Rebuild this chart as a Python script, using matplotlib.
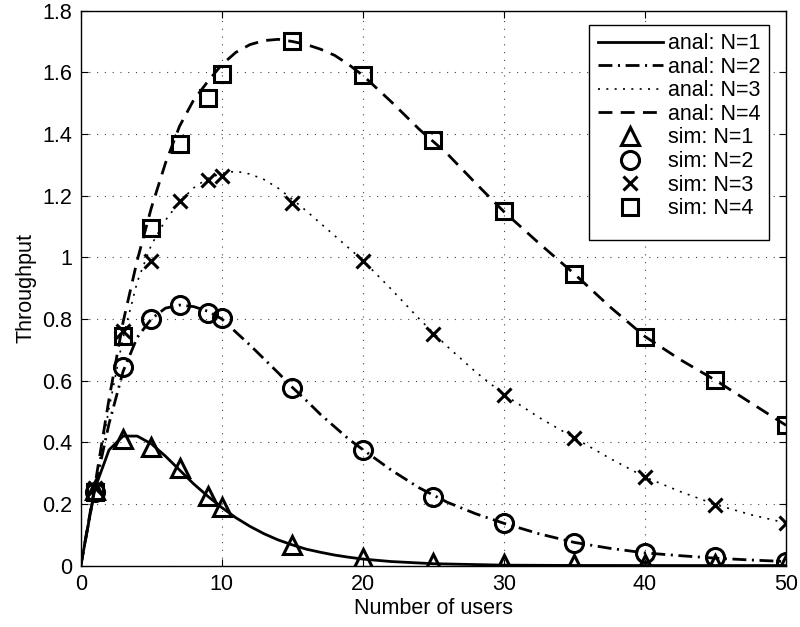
import matplotlib
matplotlib.use("Agg")
import matplotlib.pyplot as plt
from matplotlib.patches import Rectangle

plt.rcParams['font.family'] = ['Liberation Sans', 'DejaVu Sans']
plt.rcParams['font.size'] = 15.5

# simulated points
n_sim = [1, 3, 5, 7, 9, 10, 15, 20, 25, 30, 35, 40, 45, 50]
sim_n1 = [0.245, 0.41, 0.385, 0.315, 0.225, 0.19, 0.067, 0.025, 0.009, 0.006, 0.005, 0.005, 0.005, 0.005]
sim_n2 = [0.24, 0.645, 0.80, 0.845, 0.818, 0.803, 0.576, 0.376, 0.224, 0.138, 0.074, 0.04, 0.028, 0.013]
sim_n3 = [0.25, 0.76, 0.987, 1.182, 1.252, 1.263, 1.177, 0.989, 0.751, 0.554, 0.414, 0.287, 0.197, 0.138]
sim_n4 = [0.24, 0.744, 1.095, 1.366, 1.517, 1.593, 1.70, 1.59, 1.379, 1.149, 0.946, 0.743, 0.601, 0.455]

# analytical curves
n_anal1 = list(range(0, 21)) + [22, 25, 30, 35, 40, 45, 50]
anal_n1 = [0, 0.25, 0.375, 0.42, 0.42, 0.395, 0.355, 0.31, 0.265, 0.225, 0.188,
           0.155, 0.127, 0.103, 0.083, 0.067, 0.053, 0.043, 0.034, 0.027, 0.021,
           0.013, 0.006, 0.0013, 0.0003, 0.0001, 0, 0]

n_anal = list(range(0, 21)) + [22, 24, 26, 28, 30, 32.5, 35, 37.5, 40, 42.5, 45, 47.5, 50]
anal_n2 = [0, 0.25, 0.46, 0.63, 0.74, 0.80, 0.835, 0.845, 0.84, 0.825, 0.80,
           0.757, 0.715, 0.67, 0.625, 0.578, 0.535, 0.49, 0.45, 0.41, 0.376,
           0.31, 0.252, 0.205, 0.168, 0.137, 0.103, 0.075, 0.056, 0.041, 0.032, 0.024, 0.018, 0.013]
anal_n3 = [0, 0.255, 0.51, 0.74, 0.92, 1.04, 1.12, 1.18, 1.225, 1.256, 1.272,
           1.279, 1.27, 1.252, 1.224, 1.188, 1.15, 1.11, 1.07, 1.03, 0.99,
           0.897, 0.80, 0.71, 0.628, 0.555, 0.48, 0.414, 0.348, 0.287, 0.24, 0.198, 0.165, 0.138]
anal_n4 = [0, 0.26, 0.54, 0.79, 0.99, 1.16, 1.305, 1.425, 1.51, 1.57, 1.625,
           1.665, 1.69, 1.703, 1.707, 1.70, 1.69, 1.675, 1.655, 1.625, 1.59,
           1.505, 1.415, 1.335, 1.24, 1.148, 1.045, 0.946, 0.84, 0.743, 0.668, 0.601, 0.528, 0.455]

x_ticks = [0, 10, 20, 30, 40, 50]
y_ticks = [0, 0.2, 0.4, 0.6, 0.8, 1, 1.2, 1.4, 1.6, 1.8]
y_ticklabels = ['0', '0.2', '0.4', '0.6', '0.8', '1', '1.2', '1.4', '1.6', '1.8']

fig = plt.figure(figsize=(8, 6.27), dpi=100)
ax = fig.add_axes([0.101, 0.098, 0.8815, 0.885])

lw = 2.0
ax.plot(n_anal1, anal_n1, color='k', lw=lw, label='anal: N=1')
ax.plot(n_anal, anal_n2, color='k', lw=lw, dashes=(5, 2, 0.75, 2), label='anal: N=2')
ax.plot(n_anal, anal_n3, color='k', lw=1.2, dashes=(1.2, 3.8), label='anal: N=3')
ax.plot(n_anal, anal_n4, color='k', lw=lw, dashes=(5, 3), label='anal: N=4')

mk = dict(ls='none', color='k', mfc='none', mew=2.2)
ax.plot(n_sim, sim_n1, marker='^', ms=13, label='sim: N=1', **mk)
ax.plot(n_sim, sim_n2, marker='o', ms=13, label='sim: N=2', **mk)
ax.plot(n_sim, sim_n3, marker='x', ms=9.5, label='sim: N=3', **mk)
ax.plot(n_sim, sim_n4, marker='s', ms=11, label='sim: N=4', **mk)

ax.set_xlim(0, 50)
ax.set_ylim(0, 1.8)
ax.set_xticks(x_ticks)
ax.set_yticks(y_ticks)
ax.set_yticklabels(y_ticklabels)
ax.tick_params(direction='in', top=True, right=True, length=5, width=0.8, pad=6)
ax.grid(True, color='#444444', ls=(0, (1, 6)), lw=0.8)
for sp in ax.spines.values():
    sp.set_linewidth(1.0)

ax.set_xlabel('Number of users', labelpad=2)
ax.set_ylabel('Throughput', labelpad=4)

leg = ax.legend(loc='upper right', bbox_to_anchor=(0.976, 0.975), frameon=False,
                handlelength=3.0, handletextpad=0.25, labelspacing=0.12,
                borderpad=0.4, borderaxespad=0)
leg.set_zorder(6)

# legend box drawn by hand so it can carry extra room below the last entry
fig.canvas.draw()
bb = leg.get_window_extent()
extra = 12
ax.add_artist(Rectangle((bb.x0, bb.y0 - extra), bb.width, bb.height + extra,
                        transform=None, facecolor='white', edgecolor='k',
                        lw=1.0, zorder=5))

fig.savefig('out.png', dpi=100)
